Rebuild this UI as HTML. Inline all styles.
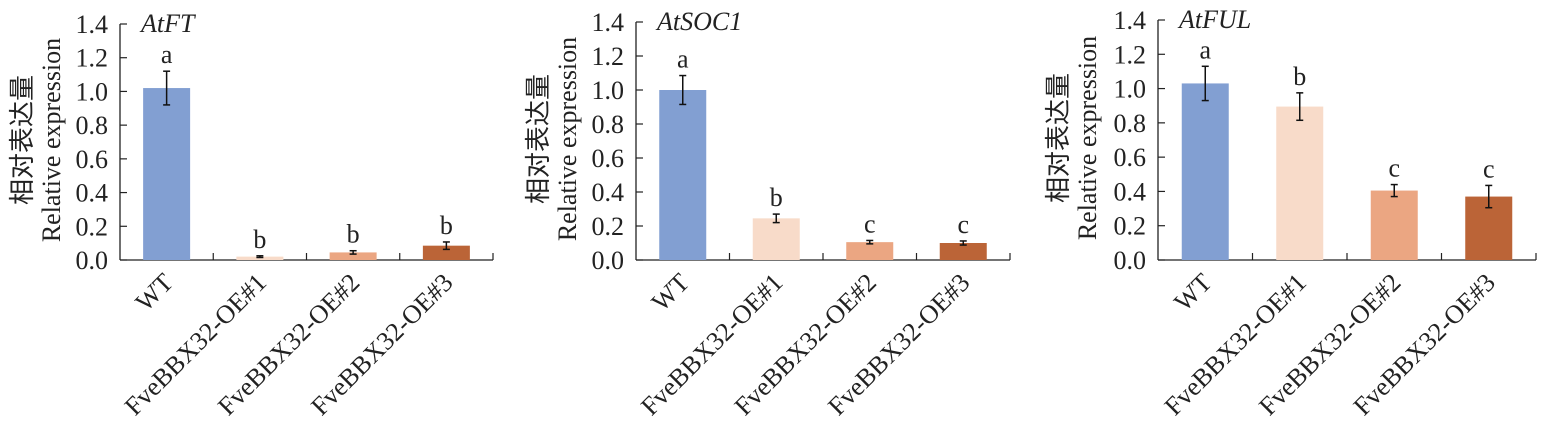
<!DOCTYPE html>
<html><head><meta charset="utf-8"><style>body{margin:0;background:#fff}svg{display:block}</style></head>
<body>
<svg id="s" width="1542" height="430" xmlns="http://www.w3.org/2000/svg" font-family="Liberation Serif, 'Noto Serif CJK SC', serif"></svg>
<script>
const P=[
 {ax:120,top:24,bot:260,right:493,title:"AtFT",vals:[[1.02,.1,'a'],[.02,.005,'b'],[.045,.01,'b'],[.085,.022,'b']],ylx:20},
 {ax:636,top:22,bot:260,right:1010,title:"AtSOC1",vals:[[1.0,.085,'a'],[.245,.025,'b'],[.105,.01,'c'],[.1,.012,'c']],ylx:536},
 {ax:1158,top:20,bot:260,right:1536,title:"AtFUL",vals:[[1.03,.1,'a'],[.895,.08,'b'],[.405,.035,'c'],[.37,.065,'c']],ylx:1056}
];
const cols=["#829fd2","#f8dbc9","#eba682","#bb6437"];
const names=["WT","FveBBX32-OE#1","FveBBX32-OE#2","FveBBX32-OE#3"];
let h="";
for(const p of P){
 const sc=(p.bot-p.top)/1.4, y=v=>p.bot-v*sc, cw=(p.right-p.ax)/4;
 h+=`<line x1="${p.ax}" y1="${p.top}" x2="${p.ax}" y2="${p.bot}" stroke="#222" stroke-width="1.3"/>`;
 h+=`<line x1="${p.ax}" y1="${p.bot}" x2="${p.right}" y2="${p.bot}" stroke="#222" stroke-width="1.3"/>`;
 for(let i=0;i<=7;i++){const v=i*0.2,yy=y(v);
  h+=`<line x1="${p.ax}" y1="${yy}" x2="${p.ax+7}" y2="${yy}" stroke="#222" stroke-width="1.2"/>`;
  h+=`<text x="${p.ax-12}" y="${yy+9}" font-size="26" text-anchor="end" fill="#222">${v.toFixed(1)}</text>`;}
 for(let i=1;i<=4;i++){const xx=p.ax+i*cw;h+=`<line x1="${xx}" y1="${p.bot}" x2="${xx}" y2="${p.bot-7}" stroke="#222" stroke-width="1.2"/>`;}
 h+=`<text x="${p.ax+21}" y="${p.top+8}" font-size="26" font-style="italic" fill="#222">${p.title}</text>`;
 p.vals.forEach((d,i)=>{const c=p.ax+cw*(i+0.5),w=47,t=y(d[0]);
  h+=`<rect x="${c-w/2}" y="${t}" width="${w}" height="${p.bot-t}" fill="${cols[i]}"/>`;
  const e1=y(d[0]+d[1]),e2=y(d[0]-d[1]);
  h+=`<g stroke="#111" stroke-width="1.5"><line x1="${c}" y1="${e1}" x2="${c}" y2="${e2}"/><line x1="${c-3.5}" y1="${e1}" x2="${c+3.5}" y2="${e1}"/><line x1="${c-3.5}" y1="${e2}" x2="${c+3.5}" y2="${e2}"/></g>`;
  h+=`<text x="${c}" y="${e1-8}" font-size="26" text-anchor="middle" fill="#222">${d[2]}</text>`;
  h+=`<text transform="translate(${c+8},${p.bot+24}) rotate(-45)" font-size="26" text-anchor="end" fill="#222">${names[i]}</text>`;
 });
 const my=(p.top+p.bot)/2-2;
 h+=`<text transform="translate(${p.ylx+11},${my}) rotate(-90)" font-size="26" text-anchor="middle" fill="#222" font-family="'Noto Sans CJK SC',sans-serif">相对表达量</text>`;
 h+=`<text transform="translate(${p.ylx+40},${my}) rotate(-90)" font-size="26" text-anchor="middle" fill="#222">Relative expression</text>`;
}
document.getElementById("s").innerHTML=h;
</script>
</body></html>
